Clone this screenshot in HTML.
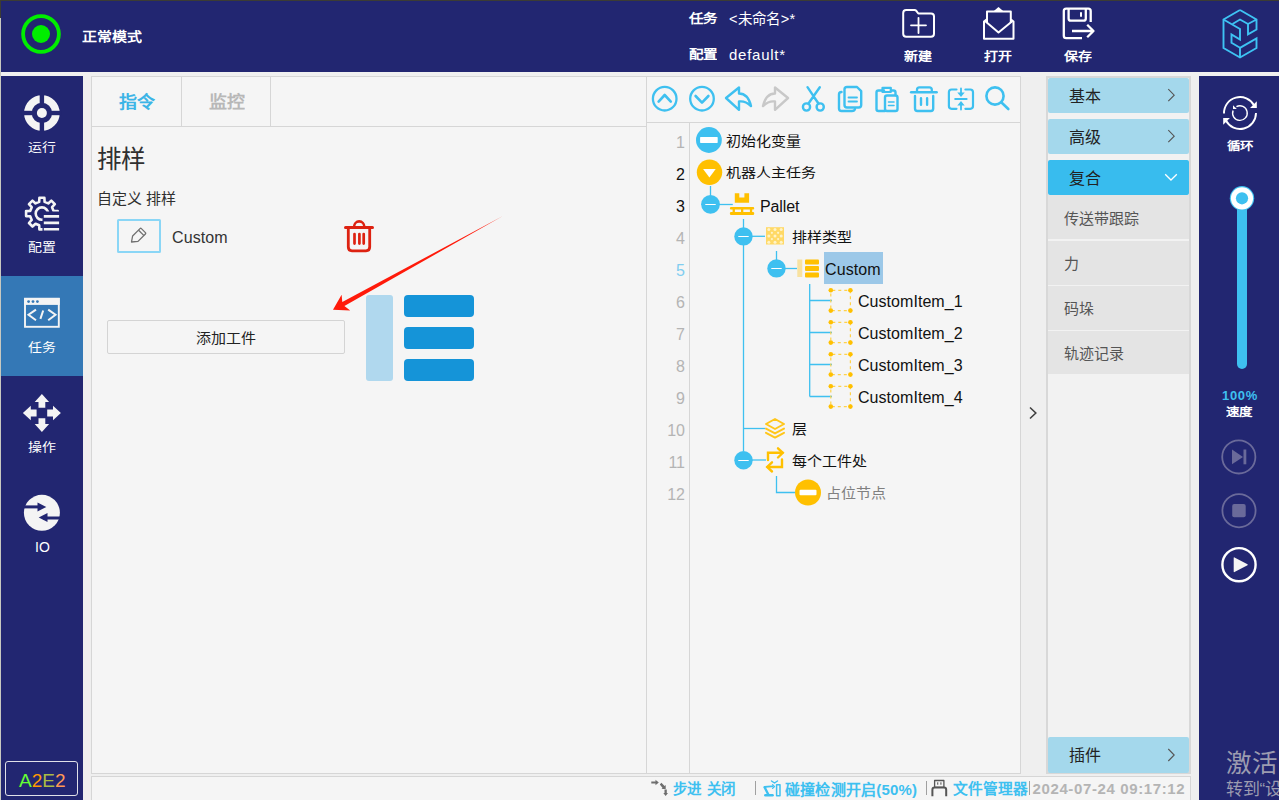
<!DOCTYPE html>
<html lang="zh-CN">
<head>
<meta charset="utf-8">
<style>
*{margin:0;padding:0;box-sizing:border-box}
html,body{width:1279px;height:800px;overflow:hidden;background:#efefef;font-family:"Liberation Sans",sans-serif}
.a{position:absolute}
.nav{background:#222671}
.t{position:absolute;white-space:nowrap;line-height:1}
.s86{transform:scaleY(.86)}
.s92{transform:scaleY(.92)}
svg{position:absolute;overflow:visible}
</style>
</head>
<body>
<!-- outer frame -->
<div class="a" style="left:0;top:0;width:1279px;height:1px;background:#3c3c34"></div>
<div class="a" style="left:0;top:0;width:1px;height:18px;background:#3c3c34"></div>
<div class="a" style="left:0;top:18px;width:1px;height:782px;background:#c8c8c0"></div>

<!-- header -->
<div class="a nav" style="left:1px;top:1px;width:1278px;height:71px"></div>
<div class="a" style="left:1px;top:72px;width:1278px;height:4px;background:#f0f0f0"></div>

<!-- left sidebar -->
<div class="a nav" style="left:1px;top:76px;width:82px;height:724px"></div>
<div class="a" style="left:1px;top:276px;width:82px;height:100px;background:#3478b6"></div>

<!-- right sidebar -->
<div class="a nav" style="left:1199px;top:76px;width:80px;height:724px"></div>

<!-- left panel -->
<div class="a" style="left:91px;top:76px;width:556px;height:698px;background:#f5f5f5;border:1px solid #d6d6d6"></div>

<!-- tree panel -->
<div class="a" style="left:646px;top:76px;width:375px;height:698px;background:#f5f5f5;border:1px solid #d6d6d6"></div>

<!-- right panel -->
<div class="a" style="left:1046px;top:76px;width:145px;height:698px;background:#f2f2f2;border:2px solid #d8d8d8"></div>

<!-- status bar -->
<div class="a" style="left:91px;top:776px;width:1100px;height:24px;background:#f5f5f5;border:1px solid #d6d6d6;border-bottom:none"></div>


<svg class="a" style="left:0;top:0" width="1279" height="800" viewBox="0 0 1279 800">
<!-- green mode indicator -->
<circle cx="41" cy="34" r="17.9" fill="none" stroke="#00ee00" stroke-width="3.8"/>
<circle cx="41" cy="34" r="9" fill="#00ee00"/>
<!-- new folder -->
<g fill="none" stroke="#fff" stroke-width="2" stroke-linejoin="round" stroke-linecap="round">
<path d="M906.2,10 H914.5 Q915.5,10 916.3,10.8 L918.3,13.5 H931 Q934,13.5 934,16.5 V33.8 Q934,36.8 931,36.8 H906.2 Q903.2,36.8 903.2,33.8 V13 Q903.2,10 906.2,10 Z"/>
<path d="M911,25.3 H926 M918.5,17.8 V33" stroke-width="1.8"/>
</g>
<!-- open envelope -->
<g fill="none" stroke="#fff" stroke-width="2" stroke-linejoin="round">
<path d="M987,22.5 V11.5 H1010.8 V22.5"/>
<path d="M986.5,19.5 L984,21.5 V38.7 H1013.5 V21.5 L1011,19.5"/>
<path d="M985,21 L998.5,32.5 L1012.5,21"/>
</g>
<path d="M993,11.8 L998.5,7 L1004,11.8 Z" fill="#fff"/>
<!-- save -->
<g fill="none" stroke="#fff" stroke-width="2.3" stroke-linejoin="round">
<path d="M1082,38.2 H1066.2 Q1063.8,38.2 1063.8,35.8 V11 Q1063.8,8.6 1066.2,8.6 H1088.3 Q1090.7,8.6 1090.7,11 V22"/>
<path d="M1068.6,8.6 V18.5 Q1068.6,20.7 1070.8,20.7 H1083.6 Q1085.8,20.7 1085.8,18.5 V8.6"/>
<path d="M1081,12.2 V16.8" stroke-width="2"/>
<path d="M1072,31 H1093.5 M1087.2,24.8 L1093.5,31 L1087.2,37.2"/>
</g>
<!-- logo -->
<g fill="none" stroke="#3ec3f3" stroke-width="1.9" stroke-linejoin="miter">
<path d="M1240,10 L1223.5,19.5 V48 L1240,57.5 L1256.5,48 V38.5 L1240,47.8 V57.5"/>
<path d="M1240,10 L1256.5,19.5 V29.5 L1248,34.3 V24 L1256.5,19.5"/>
<path d="M1223.5,19.5 L1240,29 V39.5 L1231.5,34.5 V42.8 L1240,47.8"/>
<path d="M1232.5,24 L1240,19.5 L1248,24"/>
</g>

<!-- sidebar: run -->
<circle cx="41.9" cy="113" r="14" fill="none" stroke="#f4f4f4" stroke-width="7.6"/>
<rect x="39.7" y="93" width="4.4" height="40" fill="#222671"/>
<rect x="21.9" y="110.8" width="40" height="4.4" fill="#222671"/>
<circle cx="41.9" cy="113" r="5" fill="#f4f4f4"/>
<!-- sidebar: config gear -->
<defs><clipPath id="gclip"><path d="M0,0 H800 V800 H0 Z M42.5,211.5 H70 V240 H42.5 Z" clip-rule="evenodd"/></clipPath></defs>
<g clip-path="url(#gclip)">
<path transform="translate(41.9,213.6)" fill="none" stroke="#f4f4f4" stroke-width="2.6" stroke-linejoin="round" d="M-2.70,-11.69 L-2.50,-15.80 L2.50,-15.80 L2.70,-11.69 L6.36,-10.18 L9.40,-12.94 L12.94,-9.40 L10.18,-6.36 L11.69,-2.70 L15.80,-2.50 L15.80,2.50 L11.69,2.70 L10.18,6.36 L12.94,9.40 L9.40,12.94 L6.36,10.18 L2.70,11.69 L2.50,15.80 L-2.50,15.80 L-2.70,11.69 L-6.36,10.18 L-9.40,12.94 L-12.94,9.40 L-10.18,6.36 L-11.69,2.70 L-15.80,2.50 L-15.80,-2.50 L-11.69,-2.70 L-10.18,-6.36 L-12.94,-9.40 L-9.40,-12.94 L-6.36,-10.18 Z"/>
<circle cx="41.9" cy="213.6" r="6.2" fill="none" stroke="#f4f4f4" stroke-width="2.6"/>
</g>
<path d="M43.8,216.4 H59.1 M43.8,222.9 H59.1 M43.8,229.3 H59.1" stroke="#f4f4f4" stroke-width="2.6"/>
<!-- sidebar: task -->
<rect x="25" y="298.8" width="33.8" height="28" fill="none" stroke="#f4f4f4" stroke-width="1.9"/>
<rect x="24.1" y="297.9" width="35.6" height="7" fill="#f4f4f4"/>
<circle cx="28.6" cy="301.6" r="1.4" fill="#3478b6"/>
<circle cx="33" cy="301.6" r="1.4" fill="#3478b6"/>
<circle cx="37.4" cy="301.6" r="1.4" fill="#3478b6"/>
<path d="M36,309.6 L28.5,314.8 L36,320.2 M43.2,310.5 L40.4,318.9 M48.2,309.6 L55.5,314.8 L48.2,320.2" fill="none" stroke="#f4f4f4" stroke-width="2"/>
<!-- sidebar: move -->
<g transform="translate(41.9,413)" fill="#f4f4f4">
<path id="arr" d="M0,-19 L7.2,-11.1 L3.4,-11.1 L3.4,-5.3 L-3.4,-5.3 L-3.4,-11.1 L-7.2,-11.1 Z"/>
<use href="#arr" transform="rotate(90)"/>
<use href="#arr" transform="rotate(180)"/>
<use href="#arr" transform="rotate(270)"/>
</g>
<!-- sidebar: IO -->
<circle cx="41.9" cy="512.8" r="18" fill="#f4f4f4"/>
<path d="M23,506.9 H41" stroke="#222671" stroke-width="3"/>
<path d="M37.5,502.5 L46.3,506.9 L37.5,511.5 Z" fill="#222671"/>
<path d="M61,518 H43" stroke="#222671" stroke-width="3"/>
<path d="M47.5,513 L38.7,517.5 L47.5,522 Z" fill="#222671"/>
<!-- A2E2 box -->
<rect x="5.5" y="761.5" width="72" height="34" rx="2.5" fill="none" stroke="#e0e0e8" stroke-width="1"/>
</svg>

<div class="t s86" style="left:82px;top:29px;font-size:15px;font-weight:bold;color:#fff">正常模式</div>
<div class="t s86" style="left:689px;top:12px;font-size:14.5px;font-weight:bold;color:#fff">任务</div>
<div class="t" style="left:729px;top:12px;font-size:14.5px;color:#fff;letter-spacing:0.3px">&lt;未命名&gt;*</div>
<div class="t s86" style="left:689px;top:48px;font-size:14.5px;font-weight:bold;color:#fff">配置</div>
<div class="t" style="left:729px;top:47px;font-size:15px;color:#fff;letter-spacing:0.75px">default*</div>
<div class="t s86" style="left:904px;top:50px;font-size:14px;font-weight:bold;color:#fff">新建</div>
<div class="t s86" style="left:984px;top:50px;font-size:14px;font-weight:bold;color:#fff">打开</div>
<div class="t s86" style="left:1064px;top:50px;font-size:14px;font-weight:bold;color:#fff">保存</div>
<div class="t s86" style="left:28px;top:141px;font-size:14px;font-weight:500;color:#fff">运行</div>
<div class="t s86" style="left:28px;top:241px;font-size:14px;font-weight:500;color:#fff">配置</div>
<div class="t s86" style="left:28px;top:341px;font-size:14px;font-weight:500;color:#fff">任务</div>
<div class="t s86" style="left:28px;top:441px;font-size:14px;font-weight:500;color:#fff">操作</div>
<div class="t" style="left:35px;top:540px;font-size:14px;color:#fff">IO</div>
<div class="t" style="left:19px;top:771px;font-size:19px;"><span style="color:#66ff33">A</span><span style="color:#ff9900">2</span><span style="color:#aabb44">E</span><span style="color:#ff9955">2</span></div>

<!-- left panel tabs -->
<div class="a" style="left:181px;top:77px;width:1px;height:49px;background:#d6d6d6"></div>
<div class="a" style="left:270px;top:77px;width:1px;height:49px;background:#d6d6d6"></div>
<div class="a" style="left:92px;top:126px;width:554px;height:1px;background:#d6d6d6"></div>
<div class="t s92" style="left:118.5px;top:93px;font-size:18px;font-weight:bold;color:#3cb4e6">指令</div>
<div class="t s92" style="left:208.5px;top:93px;font-size:18px;font-weight:bold;color:#b8b8b8">监控</div>
<div class="t" style="left:97px;top:148px;font-size:24.5px;color:#303030">排样</div>
<div class="t" style="left:96.8px;top:191px;font-size:15px;color:#303030">自定义 排样</div>
<div class="a" style="left:117px;top:219px;width:44px;height:34px;border:2px solid #8ad6f6;border-radius:1.5px;background:#f5f5f5"></div>
<div class="t" style="left:172px;top:230px;font-size:16px;color:#333;letter-spacing:0.1px">Custom</div>
<div class="a" style="left:107px;top:320px;width:238px;height:34px;border:1px solid #d4d4d4;border-radius:2px;background:#f5f5f5"></div>
<div class="t s92" style="left:196px;top:330px;font-size:15px;color:#222">添加工件</div>
<div class="a" style="left:366px;top:295px;width:27px;height:86px;border-radius:3px;background:#b0d8ee"></div>
<div class="a" style="left:404px;top:295px;width:70px;height:22px;border-radius:4px;background:#1594d8"></div>
<div class="a" style="left:404px;top:327px;width:70px;height:22px;border-radius:4px;background:#1594d8"></div>
<div class="a" style="left:404px;top:359px;width:70px;height:22px;border-radius:4px;background:#1594d8"></div>
<svg class="a" style="left:0;top:0" width="1279" height="800" viewBox="0 0 1279 800">
<!-- pencil -->
<g fill="none" stroke="#707070" stroke-width="1.3" stroke-linejoin="round">
<path d="M131.5,242 L132.6,236 L140,228.6 Q140.7,227.9 141.4,228.6 L145.4,232.6 Q146.1,233.3 145.4,234 L138,241.4 Z"/>
<path d="M138.6,230.2 L144,235.6"/>
</g>
<!-- trash red -->
<g fill="none" stroke="#dd2211" stroke-linecap="round" stroke-linejoin="round">
<path d="M345.5,227.4 H372.5" stroke-width="3"/>
<path d="M354,227 A5.2,5.6 0 0 1 364.4,227" stroke-width="2.6"/>
<path d="M348.3,229 V247 Q348.3,250.8 352,250.8 H366 Q369.7,250.8 369.7,247 V229" stroke-width="2.8"/>
<path d="M354.5,234 V243.6 M359.4,234 V243.6 M363.7,234 V243.6" stroke-width="2.7"/>
</g>
<!-- red arrow -->
<path d="M502.4,216.3 L342.3,302.0 L341.6,294.8 L333.0,309.7 L350.2,310.4 L344.4,305.9 Z" fill="#ff1a0a"/>
</svg>

<!-- tree panel internal borders -->
<div class="a" style="left:647px;top:122px;width:373px;height:1px;background:#d6d6d6"></div>
<div class="a" style="left:689px;top:123px;width:1px;height:650px;background:#d6d6d6"></div>
<!-- line numbers -->
<div class="a" style="left:648px;top:126.5px;width:37px;font-size:16px;line-height:32px;text-align:right;color:#b4b4b4">
<div>1</div><div style="color:#111">2</div><div style="color:#111">3</div><div>4</div><div style="color:#80cdf0">5</div><div>6</div><div>7</div><div>8</div><div>9</div><div>10</div><div>11</div><div>12</div>
</div>
<!-- selection -->
<div class="a" style="left:824px;top:252px;width:59px;height:32px;background:#9cc8e8"></div>
<!-- tree text -->
<div class="t s92" style="left:726px;top:133px;font-size:15px;font-weight:500;color:#111">初始化变量</div>
<div class="t s86" style="left:726px;top:165px;font-size:15px;font-weight:500;color:#111">机器人主任务</div>
<div class="t" style="left:760px;top:198.5px;font-size:16px;color:#111;letter-spacing:-0.1px">Pallet</div>
<div class="t s92" style="left:792px;top:229px;font-size:15px;font-weight:500;color:#111">排样类型</div>
<div class="t" style="left:825px;top:262px;font-size:16px;color:#111;letter-spacing:0.1px">Custom</div>
<div class="t" style="left:858px;top:293.5px;font-size:16px;color:#111;letter-spacing:0.05px">CustomItem_1</div>
<div class="t" style="left:858px;top:325.5px;font-size:16px;color:#111;letter-spacing:0.05px">CustomItem_2</div>
<div class="t" style="left:858px;top:357.5px;font-size:16px;color:#111;letter-spacing:0.05px">CustomItem_3</div>
<div class="t" style="left:858px;top:389.5px;font-size:16px;color:#111;letter-spacing:0.05px">CustomItem_4</div>
<div class="t s92" style="left:792px;top:421px;font-size:15px;font-weight:500;color:#111">层</div>
<div class="t s92" style="left:792px;top:453px;font-size:15px;font-weight:500;color:#111">每个工件处</div>
<div class="t s92" style="left:826px;top:485px;font-size:15px;color:#808080">占位节点</div>
<svg class="a" style="left:0;top:0" width="1279" height="800" viewBox="0 0 1279 800">
<!-- toolbar -->
<g fill="none" stroke="#3ec0f0" stroke-width="2.6" stroke-linecap="round" stroke-linejoin="round">
<circle cx="664.7" cy="98.7" r="11.8" stroke-width="2.3"/>
<path d="M658.6,101.6 L664.7,95 L670.8,101.6"/>
<circle cx="702" cy="98.7" r="11.8" stroke-width="2.3"/>
<path d="M695.6,96 L702,102.6 L708.4,96"/>
<path d="M726,98 L739,87.5 V93.5 Q748,93.5 751,106 Q745,100.5 739,101.5 V109.8 Z" stroke-width="2.4"/>
<path d="M813.5,96.2 L807.5,87.2 M813.5,96.2 L819.8,87.2 M813.5,96.2 L808.5,103.5 M813.5,96.2 L818.5,103.5" stroke-width="2.4"/>
<circle cx="806.5" cy="107" r="3.6" stroke-width="2.4"/>
<circle cx="820.2" cy="107" r="3.6" stroke-width="2.4"/>
<path d="M841.5,92 Q839,92 839,94.5 V108.5 Q839,111 841.5,111 H852 Q854.5,111 855,109" stroke-width="2.4"/>
<path d="M847,87 H857 L861.2,91.2 V105 Q861.2,107.5 858.7,107.5 H847 Q844.5,107.5 844.5,105 V89.5 Q844.5,87 847,87 Z" stroke-width="2.4"/>
<path d="M848.5,97.5 H857 M848.5,101.5 H857" stroke-width="1.8"/>
<path d="M884,90.5 H878.5 Q876.5,90.5 876.5,92.5 V109 Q876.5,111 878.5,111 H885" stroke-width="2.4"/>
<path d="M882.5,87.8 H890.8 V92 H882.5 Z" stroke-width="2.2"/>
<path d="M891,90.5 H893.5 Q895.5,90.5 895.5,92.5 V95" stroke-width="2.4"/>
<path d="M887,95.5 H895.5 Q897.5,95.5 897.5,97.5 V109 Q897.5,111 895.5,111 H887 Q885,111 885,109 V97.5 Q885,95.5 887,95.5 Z" stroke-width="2.4"/>
<path d="M888.5,102 H894 M888.5,105.5 H894" stroke-width="1.6"/>
<path d="M911.2,92.3 H936.6" stroke-width="2.6"/>
<path d="M917,91.5 V89.8 Q917,87.3 919.5,87.3 H929.3 Q931.8,87.3 931.8,89.8 V91.5" stroke-width="2.3"/>
<path d="M915,96 V108.6 Q915,111 917.4,111 H930.8 Q933.2,111 933.2,108.6 V96" stroke-width="2.4"/>
<path d="M921,98.2 V104.8 M927.1,98.2 V104.8" stroke-width="2.4"/>
<path d="M956.5,89.5 H951.6 Q948.9,89.5 948.9,92.2 V106.1 Q948.9,108.8 951.6,108.8 H956.5 M965.4,89.5 H970.3 Q973,89.5 973,92.2 V106.1 Q973,108.8 970.3,108.8 H965.4" stroke-width="2.2"/>
<path d="M955.2,99 H966.6" stroke-width="2"/>
<path d="M961,88.5 V93.5 M961,104.5 V109.5" stroke-width="1.8"/>
</g>
<g fill="#3ec0f0">
<path d="M957.3,92.6 H964.7 L961,97 Z"/>
<path d="M957.3,105.4 H964.7 L961,101 Z"/>
</g>
<g fill="none" stroke="#3ec0f0" stroke-width="2.6" stroke-linecap="round" stroke-linejoin="round">
<circle cx="995" cy="96" r="8.6" stroke-width="2.6"/>
<path d="M1001.5,102.5 L1008.3,109" stroke-width="2.6"/>
</g>
<path d="M788,98 L775,87.5 V93.5 Q766,93.5 763,106 Q769,100.5 775,101.5 V109.8 Z" fill="none" stroke="#c8c8c8" stroke-width="2.4" stroke-linejoin="round"/>

<!-- tree lines -->
<g stroke="#3ec0f0" stroke-width="1.3" fill="none">
<path d="M710.5,186 V196"/>
<path d="M719,204.5 H732.8"/>
<path d="M743.5,219 V451"/>
<path d="M752,236.3 H765"/>
<path d="M776.5,251 V260"/>
<path d="M785,268.5 H797"/>
<path d="M809.7,284 V396.5 M809.7,300.5 H832 M809.7,332.5 H832 M809.7,364.5 H832 M809.7,396.5 H832"/>
<path d="M743.5,428.5 H765"/>
<path d="M752,460 H766"/>
<path d="M776.5,476 V492.5 H795"/>
</g>
<!-- row1 icon -->
<circle cx="708.9" cy="140" r="12.9" fill="#3ec0f0"/>
<rect x="700.1" y="137.1" width="17.6" height="5.8" rx="0.6" fill="#fff"/>
<!-- row2 -->
<circle cx="709.5" cy="172.2" r="12.7" fill="#ffc000"/>
<path d="M703.1,169 H715.7 L709.4,177.6 Z" fill="#fff"/>
<!-- collapse circles -->
<g fill="#3ec0f0"><circle cx="710.5" cy="204.3" r="9.4"/><circle cx="743.5" cy="236.4" r="9.2"/><circle cx="776.5" cy="268.4" r="9.2"/><circle cx="743.5" cy="460.2" r="9.2"/></g>
<g stroke="#fff" stroke-width="1.2"><path d="M705.3,204.5 H715.7 M738.3,236.5 H748.7 M771.3,268.5 H781.7 M738.3,460.5 H748.7"/></g>
<!-- pallet icon -->
<g fill="#ffc000">
<path d="M734.8,193.2 H739.3 V197.5 H744.4 V193.2 H749.1 V202.8 H734.8 Z"/>
<rect x="729.9" y="207.1" width="24.3" height="2.5" rx="1.1"/>
<rect x="729.9" y="211.9" width="24.3" height="3" rx="1.2"/>
<rect x="732.6" y="209" width="2.3" height="3.2"/><rect x="741" y="209" width="2.3" height="3.2"/><rect x="749.9" y="209" width="2.3" height="3.2"/>
</g>
<!-- pattern icon -->
<rect x="766" y="227.2" width="18" height="17.3" fill="#ffd966"/>
<g fill="#fff3c8">
<circle cx="768.8" cy="229.6" r="1.5"/>
<circle cx="775.0" cy="229.6" r="1.5"/>
<circle cx="781.2" cy="229.6" r="1.5"/>
<circle cx="768.8" cy="235.9" r="1.5"/>
<circle cx="775.0" cy="235.9" r="1.5"/>
<circle cx="781.2" cy="235.9" r="1.5"/>
<circle cx="768.8" cy="242.2" r="1.5"/>
<circle cx="775.0" cy="242.2" r="1.5"/>
<circle cx="781.2" cy="242.2" r="1.5"/>
<circle cx="771.9" cy="232.8" r="1.1"/>
<circle cx="778.1" cy="232.8" r="1.1"/>
<circle cx="771.9" cy="239.1" r="1.1"/>
<circle cx="778.1" cy="239.1" r="1.1"/>
</g>
<!-- list icon -->
<rect x="797.3" y="259.5" width="5" height="17.5" fill="#f8e2a0"/>
<g fill="#ffc000"><rect x="805" y="259.5" width="14" height="5" rx="1"/><rect x="805" y="266" width="14" height="5" rx="1"/><rect x="805" y="272.5" width="14" height="5" rx="1"/></g>
<!-- custom item icons -->
<g id="ci">
<rect x="830.8" y="290.3" width="19.6" height="20.3" fill="none" stroke="#ffd24a" stroke-width="1.2" stroke-dasharray="3,3" stroke-dashoffset="-1.5"/>
<g fill="#ffc000"><circle cx="830.8" cy="290.3" r="2.3"/><circle cx="850.4" cy="290.3" r="2.3"/><circle cx="830.8" cy="310.6" r="2.3"/><circle cx="850.4" cy="310.6" r="2.3"/></g>
</g>
<use href="#ci" y="32"/><use href="#ci" y="64"/><use href="#ci" y="96"/>
<!-- layers icon -->
<g fill="none" stroke="#ffc61a" stroke-width="2" stroke-linejoin="round" stroke-linecap="round">
<path d="M766,424 L775,419 L784,424 L775,429 Z"/>
<path d="M766,428.6 L775,433.4 L784,428.6"/>
<path d="M766,432.8 L775,437.6 L784,432.8"/>
</g>
<!-- repeat icon -->
<g fill="none" stroke="#ffc000" stroke-width="2.4" stroke-linejoin="miter" stroke-linecap="round">
<path d="M768,460 V452.8 H782.5"/>
<path d="M778,448.3 L782.8,452.8 L778,457.5"/>
<path d="M782,459.5 V467 H767.5"/>
<path d="M772,462.3 L767.2,467 L772,471.5"/>
</g>
<!-- placeholder -->
<circle cx="808" cy="492.5" r="13" fill="#ffc000"/>
<rect x="799.5" y="489.8" width="17" height="5.4" rx="1" fill="#fff"/>
</svg>

<!-- right panel -->
<div class="a" style="left:1048px;top:78px;width:141px;height:35px;background:#a4d8ec;border-radius:2px"></div>
<div class="a" style="left:1048px;top:119px;width:141px;height:35px;background:#a4d8ec;border-radius:2px"></div>
<div class="a" style="left:1048px;top:160px;width:141px;height:35px;background:#38bcee;border-radius:2px"></div>
<div class="a" style="left:1048px;top:195px;width:141px;height:44px;background:#e4e4e4"></div>
<div class="a" style="left:1048px;top:240.5px;width:141px;height:44px;background:#e4e4e4"></div>
<div class="a" style="left:1048px;top:286px;width:141px;height:43.5px;background:#e4e4e4"></div>
<div class="a" style="left:1048px;top:331px;width:141px;height:43px;background:#e4e4e4"></div>
<div class="a" style="left:1048px;top:737px;width:141px;height:35.5px;background:#a4d8ec;border-radius:2px"></div>
<div class="t" style="left:1069px;top:89px;font-size:16px;font-weight:500;color:#222">基本</div>
<div class="t" style="left:1069px;top:130px;font-size:16px;font-weight:500;color:#222">高级</div>
<div class="t" style="left:1069px;top:171px;font-size:16px;font-weight:500;color:#222">复合</div>
<div class="t" style="left:1064px;top:211px;font-size:15px;color:#555">传送带跟踪</div>
<div class="t" style="left:1064px;top:256px;font-size:15px;color:#555">力</div>
<div class="t" style="left:1064px;top:301px;font-size:15px;color:#555">码垛</div>
<div class="t" style="left:1064px;top:346px;font-size:15px;color:#555">轨迹记录</div>
<div class="t" style="left:1069px;top:748px;font-size:16px;font-weight:500;color:#222">插件</div>

<!-- right sidebar text -->
<div class="t s86" style="left:1226.5px;top:140px;font-size:13.5px;font-weight:bold;color:#fff">循环</div>
<div class="t" style="left:1222px;top:389px;font-size:13px;font-weight:bold;color:#3ec0f0;letter-spacing:0.7px">100%</div>
<div class="t s86" style="left:1226px;top:406px;font-size:13.5px;font-weight:bold;color:#fff">速度</div>
<div class="t" style="left:1225.5px;top:751px;font-size:25.5px;color:#9c9cb0">激活</div>
<div class="t" style="left:1225.5px;top:781px;font-size:17px;color:#9c9cb0">转到“设</div>

<!-- status bar -->
<div class="t" style="left:673px;top:782px;font-size:14.5px;font-weight:bold;color:#3ec0f0;word-spacing:1.5px">步进 关闭</div>
<div class="t" style="left:785px;top:782px;font-size:15px;font-weight:bold;color:#3ec0f0;letter-spacing:0.2px">碰撞检测开启(50%)</div>
<div class="t" style="left:953px;top:782px;font-size:14.7px;font-weight:bold;color:#3ec0f0">文件管理器</div>
<div class="t" style="left:1032.5px;top:781px;font-size:15px;font-weight:bold;color:#b4b4b4;letter-spacing:0.62px">2024-07-24 09:17:12</div>
<div class="a" style="left:755px;top:781px;width:1px;height:14px;background:#a0a0a0"></div>
<div class="a" style="left:926px;top:781px;width:1px;height:14px;background:#a0a0a0"></div>
<div class="a" style="left:1029px;top:781px;width:1px;height:14px;background:#a0a0a0"></div>

<svg class="a" style="left:0;top:0" width="1279" height="800" viewBox="0 0 1279 800">
<g fill="none" stroke="#555" stroke-width="1.1">
<path d="M1168.3,89.2 L1174.2,95.2 L1168.3,101.2"/>
<path d="M1168.3,130.2 L1174.2,136.2 L1168.3,142.2"/>
<path d="M1168.3,749 L1174.2,755 L1168.3,761"/>
</g>
<path d="M1165.2,174.2 L1171,180 L1176.8,174.2" fill="none" stroke="#fff" stroke-width="1.3"/>
<!-- collapse chevron -->
<path d="M1030,407.5 L1035.8,413 L1030,418.5" fill="none" stroke="#404040" stroke-width="1.6"/>
<!-- cycle icon -->
<g fill="none" stroke="#fff" stroke-width="1.9">
<path d="M1224,113.5 A16,16 0 0 1 1254.1,105.5"/>
<path d="M1256,113 A16,16 0 0 1 1225.9,120.5"/>
<path d="M1236.4,106.7 A7.3,7.3 0 1 1 1233.1,110.5" stroke-width="1.4"/>
</g>
<g fill="#fff">
<path d="M1256.8,101.3 V108 H1250.1 Z"/>
<path d="M1223.2,124.7 V118 H1229.9 Z"/>
<path d="M1233,105.2 V109 H1236.8 Z"/>
</g>
<!-- slider -->
<rect x="1237" y="199" width="10" height="170" rx="5" fill="#3ec0f0"/>
<circle cx="1242" cy="198.3" r="12.2" fill="#3ec0f0"/>
<circle cx="1242" cy="198.3" r="11.1" fill="#fff"/>
<circle cx="1242" cy="198.3" r="6.1" fill="#3ec0f0"/>
<!-- step / stop / play -->
<circle cx="1238.8" cy="456.9" r="16.6" fill="none" stroke="#6a6a9a" stroke-width="1.8"/>
<path d="M1232,449.5 L1243,456.9 L1232,464.3 Z" fill="#6a6a9a"/>
<rect x="1243.5" y="449.5" width="2.8" height="14.8" fill="#6a6a9a"/>
<circle cx="1239" cy="510.7" r="16.6" fill="none" stroke="#6a6a9a" stroke-width="1.8"/>
<rect x="1232.2" y="504" width="13.5" height="13.2" rx="2" fill="#6a6a9a"/>
<circle cx="1239" cy="564.7" r="16.6" fill="none" stroke="#fff" stroke-width="2.4"/>
<path d="M1234.5,557.5 Q1233.7,557 1233.7,558 V571.5 Q1233.7,572.5 1234.5,572 L1247.5,565.2 Q1248,564.7 1247.5,564.2 Z" fill="#f4f4f4"/>
<!-- status icons -->
<g fill="#6e6e6e">
<path d="M651.3,781.4 H655.5 V779.8 L658.8,782.5 L655.5,785.2 V783.6 H651.3 Z"/>
<path d="M659.8,784.4 L661.4,782.8 L664.6,786 L665.7,784.9 L665.7,789.1 L661.5,789.1 L662.6,788 Z"/>
<path d="M664.5,789.4 H666.8 V793 H668 L665.65,796 L663.3,793 H664.5 Z"/>
</g>
<g fill="none" stroke="#3ec0f0" stroke-linecap="round" stroke-linejoin="round">
<path d="M765.3,795.3 H772.6" stroke-width="2.4"/>
<path d="M768.3,794.5 L764.6,787.2" stroke-width="2.4"/>
<path d="M764.6,787 Q768,786.3 772.3,786.4" stroke-width="1.9"/>
<path d="M772.6,784.8 L774.5,786.6 L772.6,788.4" stroke-width="1.3"/>
<path d="M771.5,781 L774.5,783 L777.5,781" stroke-width="1.4"/>
<rect x="776.6" y="784.7" width="3.4" height="11" stroke-width="1.5"/>
</g>
<g fill="none" stroke="#555" stroke-linejoin="round">
<path d="M932.4,796.2 V789.8 Q932.4,787.6 934.6,787.6 H944 Q946.2,787.6 946.2,789.8 V796.2" stroke-width="2"/>
<rect x="934.6" y="780.5" width="9.3" height="6.8" stroke-width="1.3"/>
</g>
<rect x="937.1" y="782.3" width="1.2" height="2.4" fill="#666"/><rect x="940.3" y="782.3" width="1.2" height="2.4" fill="#666"/>
</svg>
</body>
</html>
